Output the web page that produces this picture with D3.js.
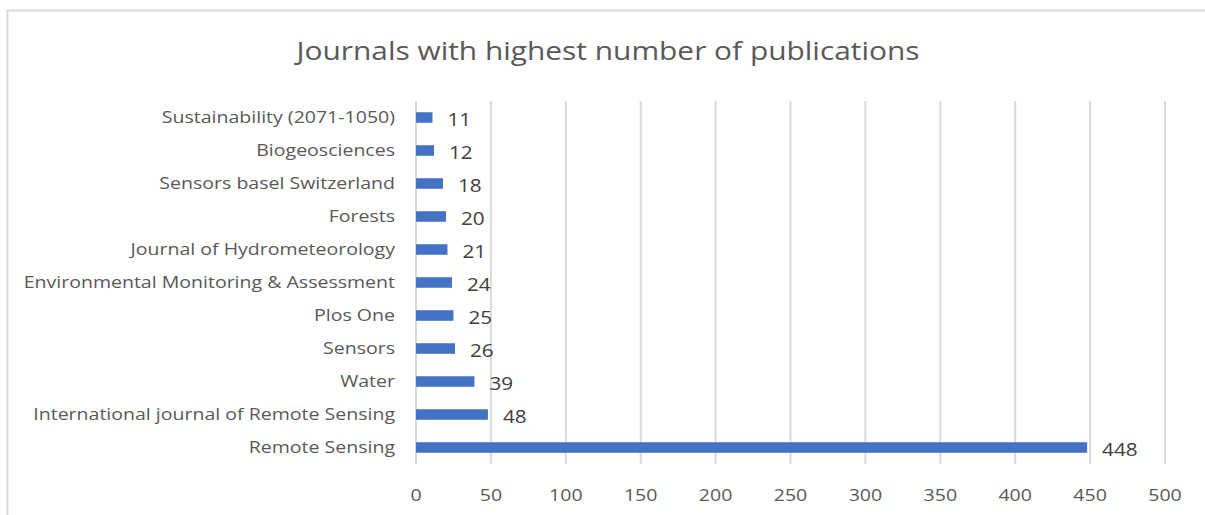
<!DOCTYPE html>
<html>
<head>
<meta charset="utf-8">
<script src="https://cdn.jsdelivr.net/npm/d3@7"></script>
<style>
  body { margin: 0; background: #fff; }
  svg { font-family: "Open Sans", "Noto Sans", sans-serif; }
</style>
</head>
<body>
<div id="chart"></div>
<script>
// Data (top to bottom)
const journals = [
    "Sustainability (2071-1050)",
    "Biogeosciences",
    "Sensors basel Switzerland",
    "Forests",
    "Journal of Hydrometeorology",
    "Environmental Monitoring & Assessment",
    "Plos One",
    "Sensors",
    "Water",
    "International journal of Remote Sensing",
    "Remote Sensing"
];
const publications = [11, 12, 18, 20, 21, 24, 25, 26, 39, 48, 448];
const xTicks = [0, 50, 100, 150, 200, 250, 300, 350, 400, 450, 500];

const width = 1205;
const height = 515;
const margin = { top: 101, right: 40, bottom: 51, left: 416 };
const stretch = 1.15; // the reference text looks a bit wide

const svg = d3.select("#chart")
    .append("svg")
    .attr("width", width)
    .attr("height", height);

// Chart frame (only left and top visible in the crop)
svg.append("rect")
    .attr("x", 7.5)
    .attr("y", 10.5)
    .attr("width", 1240)
    .attr("height", 560)
    .attr("fill", "none")
    .attr("stroke", "#d9d9d9")
    .attr("stroke-width", 2);

// Title
svg.append("text")
    .attr("transform", `translate(608,60) scale(${stretch},1)`)
    .attr("text-anchor", "middle")
    .style("font-size", "26px")
    .style("fill", "#595959")
    .text("Journals with highest number of publications");

const data = journals.map((d, i) => ({ name: d, value: publications[i] }));

const x = d3.scaleLinear()
    .domain([0, 500])
    .range([margin.left, 1165]);

const y = d3.scaleBand()
    .domain(journals)
    .range([margin.top, height - margin.bottom])
    .paddingInner(0.68)
    .paddingOuter(0.34);

// Vertical gridlines
svg.append("g")
    .selectAll("line")
    .data(xTicks)
    .join("line")
    .attr("x1", d => x(d))
    .attr("x2", d => x(d))
    .attr("y1", margin.top)
    .attr("y2", height - margin.bottom)
    .attr("stroke", "#d9d9d9")
    .attr("stroke-width", 2);

// X tick labels
svg.append("g")
    .selectAll("text")
    .data(xTicks)
    .join("text")
    .attr("transform", d => `translate(${x(d)},501) scale(${stretch},1)`)
    .attr("text-anchor", "middle")
    .style("font-size", "17px")
    .style("fill", "#595959")
    .text(d => d);

// Category labels
svg.append("g")
    .selectAll("text")
    .data(data)
    .join("text")
    .attr("transform", d => `translate(395,${y(d.name) + y.bandwidth() / 2}) scale(${stretch},1)`)
    .attr("dy", "0.35em")
    .attr("text-anchor", "end")
    .style("font-size", "17px")
    .style("fill", "#595959")
    .text(d => d.name);

// Bars
svg.append("g")
    .selectAll("rect")
    .data(data)
    .join("rect")
    .attr("x", x(0))
    .attr("y", d => y(d.name))
    .attr("width", d => x(d.value) - x(0))
    .attr("height", y.bandwidth())
    .attr("fill", "#4472c4");

// Value labels
svg.append("g")
    .selectAll("text")
    .data(data)
    .join("text")
    .attr("transform", d => `translate(${x(d.value) + 15},${y(d.name) + y.bandwidth() / 2 + 2}) scale(${stretch},1)`)
    .attr("dy", "0.35em")
    .style("font-size", "18px")
    .style("fill", "#404040")
    .text(d => d.value);
</script>
</body>
</html>
